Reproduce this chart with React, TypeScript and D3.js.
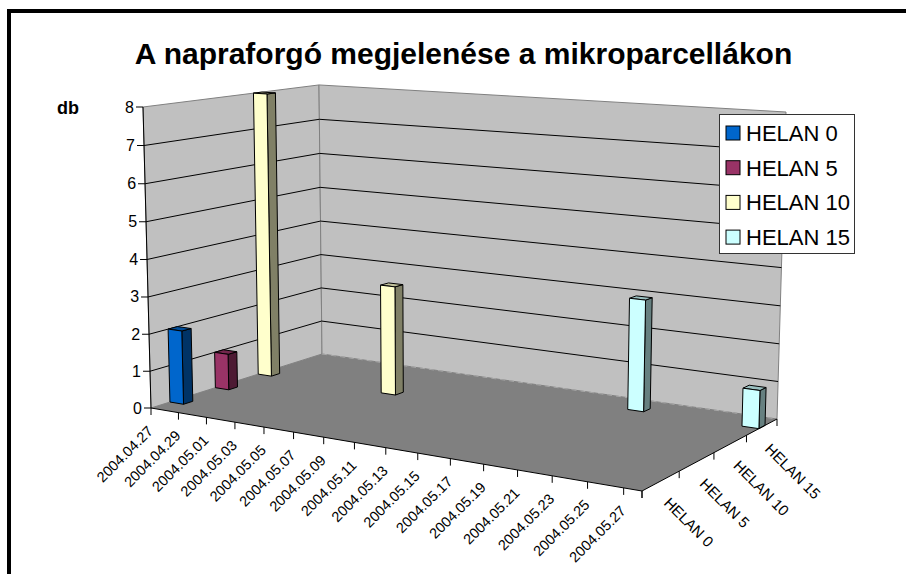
import React from "react";
import * as d3 from "d3";

const title = "A napraforgó megjelenése a mikroparcellákon";
const seriesNames = ["HELAN 0", "HELAN 5", "HELAN 10", "HELAN 15"];
const seriesColors = ["#0066CC", "#993366", "#FFFFCC", "#CCFFFF"];
const dayCount = 31;
const dateLabels = [
  "2004.04.27", "2004.04.29", "2004.05.01", "2004.05.03", "2004.05.05", "2004.05.07",
  "2004.05.09", "2004.05.11", "2004.05.13", "2004.05.15", "2004.05.17", "2004.05.19",
  "2004.05.21", "2004.05.23", "2004.05.25", "2004.05.27",
];
const valueTicks = [0, 1, 2, 3, 4, 5, 6, 7, 8];
// Non-empty observations: [series index, day index, plants counted]
const helan0 = [{ s: 0, day: 0, value: 2 }];
const helan5 = [{ s: 1, day: 0, value: 1 }];
const helan10 = [{ s: 2, day: 0, value: 8 }, { s: 2, day: 9, value: 3 }];
const helan15 = [{ s: 3, day: 23, value: 3 }, { s: 3, day: 30, value: 1 }];

type Pt = [number, number];
// Corners of the chart box on the floor, plus the top of the left wall edge.
const floorA: Pt = [151, 408];
const floorB: Pt = [322, 354];
const floorC: Pt = [777, 419];
const floorD: Pt = [642, 491];
const topA: Pt = [143, 107];
const topC: Pt = [786, 112];

function lineCross(p: Pt, q: Pt, r: Pt, s: Pt): Pt {
  const a = q[0] - p[0], b = q[1] - p[1], c = s[0] - r[0], d = s[1] - r[1];
  const t = ((r[0] - p[0]) * d - (r[1] - p[1]) * c) / (a * d - b * c);
  return [p[0] + a * t, p[1] + b * t];
}

// Homography of the unit floor square; u runs along dates, w along series.
function floorMatrix() {
  const [x0, y0] = floorA, [x1, y1] = floorD, [x2, y2] = floorC, [x3, y3] = floorB;
  const dx1 = x1 - x2, dx2 = x3 - x2, dx3 = x0 - x1 + x2 - x3;
  const dy1 = y1 - y2, dy2 = y3 - y2, dy3 = y0 - y1 + y2 - y3;
  const den = dx1 * dy2 - dx2 * dy1;
  const g = (dx3 * dy2 - dx2 * dy3) / den;
  const h = (dx1 * dy3 - dx3 * dy1) / den;
  return { a: x1 - x0 + g * x1, b: x3 - x0 + h * x3, c: x0, d: y1 - y0 + g * y1, e: y3 - y0 + h * y3, f: y0, g, h };
}

const M = floorMatrix();
const vanish = lineCross(floorA, topA, floorC, topC);
const k = (floorA[1] - topA[1]) / (topA[1] - vanish[1]);

const dayScale = d3.scaleLinear().domain([0, dayCount]).range([0, 1]);
const seriesScale = d3.scaleBand<number>().domain(d3.range(seriesNames.length)).range([0, 1]);
const valueScale = d3.scaleLinear().domain([0, 8]).range([0, 1]);

function project(u: number, w: number, v: number): Pt {
  const t = v * k;
  const den = M.g * u + M.h * w + 1 + t;
  return [
    (M.a * u + M.b * w + M.c + t * vanish[0]) / den,
    (M.d * u + M.e * w + M.f + t * vanish[1]) / den,
  ];
}

const poly = (pts: Pt[]) => pts.map((p) => p.map((n) => n.toFixed(2)).join(",")).join(" ");
const FONT = "'Liberation Sans', Arial, sans-serif";
const barDepth = 0.2;

function Bar({ s, day, value }: { s: number; day: number; value: number }) {
  const u0 = dayScale(day), u1 = dayScale(day + 1);
  const w0 = seriesScale(s)! + (seriesScale.bandwidth() * (1 - barDepth)) / 2;
  const w1 = w0 + seriesScale.bandwidth() * barDepth;
  const v = valueScale(value);
  const color = seriesColors[s];
  const shade = d3.rgb(color);
  const side = d3.rgb(shade.r / 2, shade.g / 2, shade.b / 2).formatHex();
  const roof = d3.rgb(shade.r * 0.75, shade.g * 0.75, shade.b * 0.75).formatHex();
  const edge = { stroke: "#000", strokeWidth: 1, strokeLinejoin: "round" as const };
  return (
    <g>
      <polygon points={poly([project(u1, w0, 0), project(u1, w1, 0), project(u1, w1, v), project(u1, w0, v)])} fill={side} {...edge} />
      <polygon points={poly([project(u0, w0, v), project(u1, w0, v), project(u1, w1, v), project(u0, w1, v)])} fill={roof} {...edge} />
      <polygon points={poly([project(u0, w0, 0), project(u1, w0, 0), project(u1, w0, v), project(u0, w0, v)])} fill={color} {...edge} />
    </g>
  );
}

export default function App() {
  const bars = [...helan15, ...helan10, ...helan5, ...helan0];
  return (
    <svg width={906} height={574} style={{ position: "absolute", left: 0, top: 0, background: "#fff", fontFamily: FONT }}>
      {/* Back wall, side wall and floor */}
      <polygon points={poly([project(0, 0, 0), project(0, 1, 0), project(0, 1, 1), project(0, 0, 1)])} fill="#C0C0C0" stroke="#808080" />
      <polygon points={poly([project(0, 1, 0), project(1, 1, 0), project(1, 1, 1), project(0, 1, 1)])} fill="#C0C0C0" stroke="#808080" />
      <polygon points={poly([project(0, 0, 0), project(1, 0, 0), project(1, 1, 0), project(0, 1, 0)])} fill="#808080" />

      {/* Gridlines wrapping both walls */}
      {valueTicks.slice(1, -1).map((t) => {
        const v = valueScale(t);
        return (
          <polyline key={t} points={poly([project(0, 0, v), project(0, 1, v), project(1, 1, v)])} fill="none" stroke="#000" strokeWidth={1} />
        );
      })}
      <line x1={project(0, 0, 0)[0]} y1={project(0, 0, 0)[1]} x2={project(0, 0, 1)[0]} y2={project(0, 0, 1)[1]} stroke="#000" />
      <polyline points={poly([project(0, 1, 0), project(1, 1, 0)])} stroke="#A8A8A8" strokeDasharray="5 4" fill="none" />

      {bars.map((b) => <Bar key={`${b.s}-${b.day}`} {...b} />)}

      {/* Floor edges */}
      <polyline points={poly([project(0, 0, 0), project(1, 0, 0), project(1, 1, 0)])} fill="none" stroke="#000" />

      {/* Value axis */}
      {valueTicks.map((t) => {
        const [x, y] = project(0, 0, valueScale(t));
        return (
          <g key={t}>
            <line x1={x - 7} x2={x} y1={y} y2={y} stroke="#000" />
            <text x={x - 9} y={y + 5.5} textAnchor="end" fontSize={16} fill="#000">{t}</text>
          </g>
        );
      })}
      <text x={57} y={114} fontSize={18} fontWeight="bold">db</text>

      {/* Date axis */}
      {dateLabels.map((label, i) => {
        const [x, y] = project(dayScale(i * 2), 0, 0);
        return (
          <g key={label}>
            <line x1={x} x2={x} y1={y} y2={y + 7} stroke="#000" />
            <text transform={`translate(${x + 3},${y + 24}) rotate(-45)`} textAnchor="end" fontSize={14.5}>{label}</text>
          </g>
        );
      })}
      {(() => {
        const [x, y] = project(1, 0, 0);
        return <line x1={x} x2={x} y1={y} y2={y + 7} stroke="#000" />;
      })()}

      {/* Series axis */}
      {d3.range(seriesNames.length + 1).map((i) => {
        const [x, y] = project(1, i / seriesNames.length, 0);
        return <line key={i} x1={x} x2={x} y1={y} y2={y + 7} stroke="#000" />;
      })}
      {seriesNames.map((name, i) => {
        const [x, y] = project(1, (i + 0.5) / seriesNames.length, 0);
        return (
          <text key={name} transform={`translate(${x + 2},${y + 23}) rotate(45)`} fontSize={15}>{name}</text>
        );
      })}

      {/* Legend */}
      <rect x={719.5} y={114.5} width={135} height={139} fill="#fff" stroke="#333" />
      {seriesNames.map((name, i) => {
        const y = 133 + i * 34.7;
        return (
          <g key={name}>
            <rect x={726} y={y - 7} width={14} height={14} fill={seriesColors[i]} stroke="#000" />
            <text x={746} y={y + 8} fontSize={22}>{name}</text>
          </g>
        );
      })}

      <text x={463.5} y={64} textAnchor="middle" fontSize={30} fontWeight="bold">{title}</text>

      {/* Chart frame: only the top and left sides fall inside the canvas */}
      <rect x={9} y={11} width={1000} height={700} fill="none" stroke="#000" strokeWidth={4} />
    </svg>
  );
}
